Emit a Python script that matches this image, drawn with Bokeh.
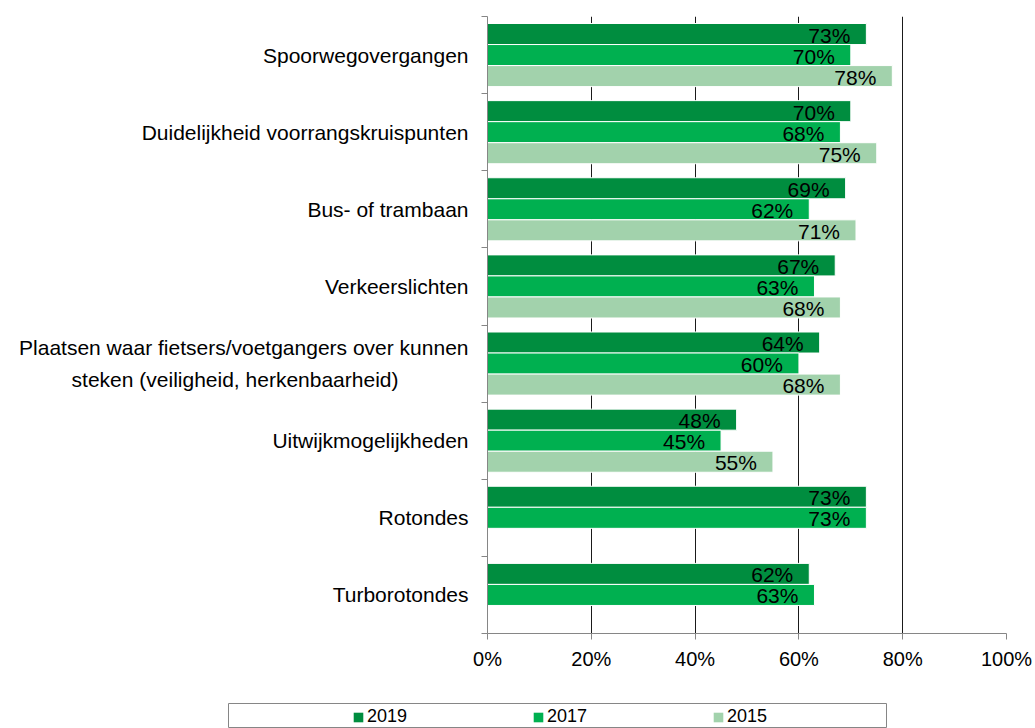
from bokeh.plotting import figure
from bokeh.models import (ColumnDataSource, Range1d, FixedTicker, PrintfTickFormatter,
                          Legend, LegendItem)
from bokeh.core.properties import value
from bokeh.embed import file_html
from bokeh.resources import INLINE

NBSP = "\u00a0"
categories = [
    "Spoorwegovergangen",
    "Duidelijkheid voorrangskruispunten",
    "Bus- of trambaan",
    "Verkeerslichten",
    "Plaatsen waar fietsers/voetgangers over kunnen\nsteken (veiligheid, herkenbaarheid)",
    "Uitwijkmogelijkheden",
    "Rotondes",
    "Turborotondes",
]
years = ["2019", "2017", "2015"]
values_2019 = [73, 70, 69, 67, 64, 48, 73, 62]
values_2017 = [70, 68, 62, 63, 60, 45, 73, 63]
values_2015 = [78, 75, 71, 68, 68, 55, None, None]
colors = ["#008D3F", "#00B050", "#A2D2AC"]
x_ticks = [0, 20, 40, 60, 80, 100]

FONT = "Liberation Sans"

p = figure(width=1035, height=703, output_backend="svg", toolbar_location=None,
           x_range=Range1d(0, 100), y_range=Range1d(len(categories), 0),
           min_border_left=487, min_border_right=29, min_border_top=16,
           min_border_bottom=70)
p.outline_line_color = None
p.background_fill_color = "white"

offsets = [-0.2727, 0.0, 0.2727]
series = [values_2019, values_2017, values_2015]
sources = []
for yr, vals, off, col in zip(years, series, offsets, colors):
    ys, xs, labels = [], [], []
    for i, v in enumerate(vals):
        if v is None:
            continue
        ys.append(i + 0.5 + off)
        xs.append(v)
        labels.append(f"{v}%")
    src = ColumnDataSource(dict(y=ys, x=xs, label=labels))
    sources.append(src)
    p.hbar(y="y", right="x", left=0, height=0.2727, source=src,
           fill_color=col, line_color="white", line_width=1)
    p.text(x="x", y="y", text="label", source=src, text_align="right",
           text_baseline="middle", x_offset=-16, y_offset=1,
           text_font=value(FONT), text_font_size="21px", text_color="black")

# grid
p.ygrid.visible = False
p.xgrid.ticker = FixedTicker(ticks=x_ticks[1:])
p.xgrid.grid_line_color = "#1a1a1a"
p.xgrid.grid_line_width = 1

# x axis
xa = p.xaxis[0]
xa.ticker = FixedTicker(ticks=x_ticks)
xa.formatter = PrintfTickFormatter(format="%d%%")
xa.axis_line_color = "#868686"
xa.major_tick_line_color = "#868686"
xa.major_tick_out = 6
xa.major_tick_in = 0
xa.minor_tick_line_color = None
xa.major_label_standoff = 8
xa.major_label_text_font = FONT
xa.major_label_text_font_size = "20px"
xa.major_label_text_color = "black"

# y axis (two-line label: second line padded so that it sits centred)
def tick_text(label):
    lines = label.split("\n")
    if len(lines) == 1:
        return label
    return lines[0] + "\n" + lines[1] + NBSP * 12

ya = p.yaxis[0]
centers = [i + 0.5 for i in range(len(categories))]
bounds = [float(i) for i in range(len(categories) + 1)]
ya.ticker = FixedTicker(ticks=centers, minor_ticks=bounds)
ya.major_label_overrides = {c: tick_text(lab) for c, lab in zip(centers, categories)}
ya.axis_line_color = "#868686"
ya.major_tick_line_color = None
ya.major_tick_out = 0
ya.major_tick_in = 0
ya.minor_tick_line_color = "#868686"
ya.minor_tick_out = 6
ya.minor_tick_in = 0
ya.major_label_standoff = 13
ya.major_label_text_font = FONT
ya.major_label_text_font_size = "21px"
ya.major_label_text_color = "black"
ya.major_label_text_line_height = 1.4

# legend strip (boxed, below the chart)
lg = figure(width=1035, height=25, output_backend="svg", toolbar_location=None,
            x_range=Range1d(0, 1), y_range=Range1d(0, 1),
            min_border_left=228, min_border_right=149, min_border_top=0,
            min_border_bottom=0)
lg.axis.visible = False
lg.grid.visible = False
lg.outline_line_color = "#868686"
lg.outline_line_width = 1
items = []
for yr, col, src in zip(years, colors, sources):
    r = lg.hbar(y="y", right="x", left=0, height=0.2727, source=src,
                fill_color=col, line_color=None, visible=False)
    items.append(LegendItem(label=yr, renderers=[r]))
legend = Legend(items=items, orientation="horizontal", location=(124, 1),
                glyph_width=12, glyph_height=12, label_standoff=3,
                label_width=41, label_height=20, spacing=124, padding=0, margin=0,
                label_text_font=FONT, label_text_font_size="18px",
                label_text_color="black", inactive_fill_alpha=0,
                border_line_alpha=0, background_fill_alpha=0)
lg.add_layout(legend, "center")

open("out.html", "w").write(file_html([p, lg], INLINE))
